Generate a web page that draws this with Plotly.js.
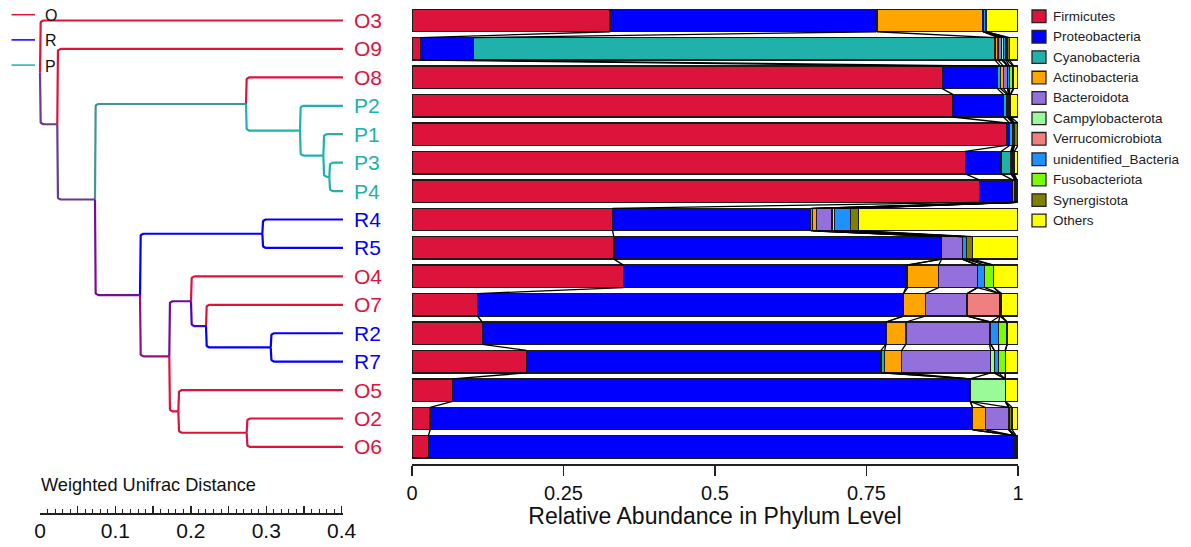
<!DOCTYPE html>
<html><head><meta charset="utf-8">
<script src="https://cdn.plot.ly/plotly-3.0.1.min.js"></script>
<style>html,body{margin:0;padding:0;background:#fff}#chart{width:1191px;height:547px}</style>
</head><body><div id="chart"></div>
<script>
// ---------------- DATA ----------------
const samples = ['O3','O9','O8','P2','P1','P3','P4','R4','R5','O4','O7','R2','R7','O5','O2','O6'];
const phyla = ['Firmicutes','Proteobacteria','Cyanobacteria','Actinobacteria','Bacteroidota',
  'Campylobacterota','Verrucomicrobiota','unidentified_Bacteria','Fusobacteriota','Synergistota','Others'];
const phylumColors = ['#DC143C','#0000FF','#20B2AA','#FFA500','#9370DB','#98FB98','#F08080','#1E90FF','#7CFC00','#808000','#FFFF00'];

//                     O3    O9    O8    P2    P1    P3    P4    R4    R5    O4    O7    R2    R7    O5    O2    O6
const firmicutes     = [0.327,0.014,0.875,0.893,0.981,0.913,0.936,0.331,0.333,0.349,0.108,0.116,0.189,0.067,0.030,0.027];
const proteobacteria = [0.439,0.087,0.091,0.083,0.005,0.059,0.055,0.327,0.541,0.466,0.703,0.666,0.585,0.854,0.895,0.967];
const cyanobacteria  = [0.001,0.861,0.005,0.006,0.005,0.016,0.004,0.003,0,    0.003,0,    0,    0.006,0,    0,    0];
const actinobacteria = [0.175,0.005,0.005,0.002,0.001,0.001,0.001,0.006,0,    0.051,0.036,0.033,0.028,0,    0.021,0];
const bacteroidota   = [0.001,0.006,0.007,0.001,0.001,0.001,0,    0.026,0.034,0.064,0.069,0.138,0.147,0,    0.039,0];
const campylobacterota=[0,    0.003,0,    0,    0,    0,    0,    0.004,0,    0,    0,    0.002,0.006,0.058,0,    0];
const verrucomicrobiota=[0,   0,    0,    0,    0,    0,    0,    0,    0,    0,    0.054,0,    0,    0,    0,    0];
const unidentifiedBacteria=[0.003,0.004,0.003,0.001,0.001,0.001,0.001,0.027,0.007,0.012,0,0.013,0.007,0,   0,    0];
const fusobacteriota = [0,    0.002,0.006,0.001,0,    0.001,0,    0,    0,    0.015,0,    0.014,0.011,0,    0,    0];
const synergistota   = [0.001,0.004,0.001,0.001,0.006,0.002,0.001,0.013,0.010,0,    0.003,0,    0,    0,    0.005,0.003];
const others         = [0.053,0.014,0.007,0.012,0,    0.006,0.002,0.263,0.075,0.040,0.027,0.018,0.021,0.021,0.010,0.003];
const abundance = [firmicutes,proteobacteria,cyanobacteria,actinobacteria,bacteroidota,campylobacterota,
  verrucomicrobiota,unidentifiedBacteria,fusobacteriota,synergistota,others];

// groups (first letter of sample)
const groupNames  = ['O','R','P'];
const groupColors = ['#DC143C','#0000FF','#20B2AA'];

// dendrogram (weighted UniFrac), x = distance from root
const nodeNames = ['G','F','E','C','M','L','J','N','K','I','H','D','B','A','root'];
const nodeLeft  = ['P3','P1','P2','O8','R2','O7','O4','O2','O5','J','R4','H','C','O9','O3'];
const nodeRight = ['P4','G','F','E','R7','M','L','O6','N','K','R5','I','D','B','A'];
const nodeDist  = [0.3836,0.3757,0.3447,0.2731,0.3059,0.2201,0.2002,0.2740,0.1834,0.1714,0.2948,0.1326,0.0729,0.0229,0];
const leafDist  = 0.4017;

const xTickVals = [0,0.25,0.5,0.75,1];
const xTickText = ['0','0.25','0.5','0.75','1'];
const scaleTickVals = [0,0.05,0.1,0.15,0.2,0.25,0.3,0.35,0.4];
const scaleTickText = ['0','','0.1','','0.2','','0.3','','0.4'];

// ---------------- GEOMETRY (px) ----------------
const W = 1191, H = 547;
const barLeft = 412, barRight = 1018;
const rowTop = 20.5, rowPitch = 28.43;
const treeZeroX = 40, treeUnit = 754.25;
const barAxisY = 464, scaleAxisY = 513;
const bargap = 0.21, half = (1 - bargap) / 2;
const px2x = p => p / W, px2y = p => 1 - p / H;
const idx = samples.map((s, i) => i);
const font = 'Liberation Sans, Arial, Helvetica, sans-serif';

const traces = [];
// bars
phyla.forEach((p, k) => {
  traces.push({type:'bar', orientation:'h', name:p, x:abundance[k], y:idx, xaxis:'x', yaxis:'y',
    marker:{color:phylumColors[k], line:{color:'#1a1a1a', width:1.4}}, showlegend:false, cliponaxis:false,
    hovertemplate:'%{fullData.name}: %{x}<extra></extra>'});
});
// connectors between consecutive bars
const cum = samples.map((s, i) => { let c = 0; return abundance.map(a => (c += a[i])); });
const cx = [], cy = [];
for (let k = 0; k < phyla.length - 1; k++) {
  for (let i = 0; i < samples.length - 1; i++) {
    cx.push(cum[i][k], cum[i+1][k], null);
    cy.push(i + half, i + 1 - half, null);
  }
}
traces.push({type:'scatter', mode:'lines', x:cx, y:cy, xaxis:'x', yaxis:'y', line:{color:'#000', width:1.3},
  hoverinfo:'skip', showlegend:false, cliponaxis:false});

// dendrogram
function hex2rgb(h){ return [1,3,5].map(o => parseInt(h.substr(o,2),16)); }
const pos = {};
samples.forEach((s, i) => { const c = {O:0,R:0,P:0}; c[s[0]] = 1; pos[s] = {x:leafDist, y:i, counts:c}; });
nodeNames.forEach((n, j) => {
  const a = pos[nodeLeft[j]], b = pos[nodeRight[j]];
  const c = {}; groupNames.forEach(g => c[g] = a.counts[g] + b.counts[g]);
  pos[n] = {x:nodeDist[j], y:(a.y + b.y) / 2, counts:c};
});
function mixColor(counts){
  let tot = 0, rgb = [0,0,0];
  groupNames.forEach((g, gi) => { const w = counts[g]; tot += w; const c = hex2rgb(groupColors[gi]); rgb = rgb.map((v, q) => v + w * c[q]); });
  return 'rgb(' + rgb.map(v => Math.round(v / tot)).join(',') + ')';
}
const r = 4, rx = r / treeUnit, ry = r / rowPitch;
nodeNames.forEach((n, j) => {
  const node = pos[n];
  [nodeLeft[j], nodeRight[j]].forEach(ch => {
    const c = pos[ch];
    const s = Math.sign(c.y - node.y);
    const xs = [node.x], ys = [node.y];
    for (let t = 0; t <= 8; t++) {
      const th = t / 8 * Math.PI / 2;
      xs.push(node.x + rx * (1 - Math.cos(th)));
      ys.push(c.y - s * ry * (1 - Math.sin(th)));
    }
    xs.push(c.x); ys.push(c.y);
    traces.push({type:'scatter', mode:'lines', x:xs, y:ys, xaxis:'x2', yaxis:'y',
      line:{color:mixColor(c.counts), width:2.2}, hoverinfo:'skip', showlegend:false, cliponaxis:false});
  });
});
// scale-bar axis carrier
traces.push({type:'scatter', mode:'lines', x:[0, 0.4], y:[17, 17], xaxis:'x3', yaxis:'y',
  line:{width:0, color:'rgba(0,0,0,0)'}, hoverinfo:'skip', showlegend:false});

// annotations
const annotations = [];
samples.forEach((s, i) => {
  annotations.push({xref:'x2', yref:'y', x:leafDist, y:i, text:s, showarrow:false, xanchor:'left', yanchor:'middle',
    xshift:9, font:{family:font, size:21, color:groupColors[groupNames.indexOf(s[0])]}});
});
const shapes = [];
phyla.forEach((p, k) => {
  const cyPx = 16.3 + k * 20.42;
  shapes.push({type:'rect', xref:'paper', yref:'paper', x0:px2x(1032), x1:px2x(1046), y0:px2y(cyPx - 6.3), y1:px2y(cyPx + 6.3),
    fillcolor:phylumColors[k], line:{color:'#222', width:1.3}});
  annotations.push({xref:'paper', yref:'paper', x:px2x(1050.5), y:px2y(cyPx), text:p, showarrow:false, xanchor:'left', yanchor:'middle',
    font:{family:font, size:13.5, color:'#222'}});
});
groupNames.forEach((g, gi) => {
  const cyPx = 14.7 + gi * 25.2;
  shapes.push({type:'line', xref:'paper', yref:'paper', x0:px2x(11.5), x1:px2x(35), y0:px2y(cyPx), y1:px2y(cyPx),
    line:{color:groupColors[gi], width:1.5}});
  annotations.push({xref:'paper', yref:'paper', x:px2x(43), y:px2y(cyPx + 1), text:g, showarrow:false, xanchor:'left', yanchor:'middle',
    font:{family:font, size:16, color:'#111'}});
});
annotations.push({xref:'paper', yref:'paper', x:px2x(39), y:px2y(485), text:'Weighted Unifrac Distance', showarrow:false,
  xanchor:'left', yanchor:'middle', font:{family:font, size:18.2, color:'#111'}});

const layout = {
  width:W, height:H, margin:{l:0, r:0, t:0, b:0}, paper_bgcolor:'#fff', plot_bgcolor:'rgba(0,0,0,0)',
  barmode:'stack', bargap:bargap, showlegend:false, font:{family:font, color:'#111'},
  yaxis:{domain:[0,1], range:[(H - rowTop) / rowPitch, -rowTop / rowPitch], visible:false, fixedrange:true},
  xaxis:{domain:[px2x(barLeft), px2x(barRight)], range:[0,1], anchor:'free', position:px2y(barAxisY),
    showline:true, linecolor:'#222', linewidth:1.5, ticks:'outside', ticklen:10, tickwidth:1.5, tickcolor:'#222',
    tickmode:'array', tickvals:xTickVals, ticktext:xTickText, tickfont:{family:font, size:20, color:'#111'},
    showgrid:false, zeroline:false, fixedrange:true,
    title:{text:'Relative Abundance in Phylum Level', font:{family:font, size:23, color:'#111'}, standoff:2}},
  xaxis2:{domain:[0, px2x(barLeft)], range:[-treeZeroX / treeUnit, (barLeft - treeZeroX) / treeUnit], anchor:'y', visible:false, fixedrange:true},
  xaxis3:{domain:[px2x(treeZeroX), px2x(treeZeroX + 0.402 * treeUnit)], range:[0, 0.402], anchor:'free', position:px2y(scaleAxisY),
    showline:true, linecolor:'#222', linewidth:1.5, ticks:'inside', ticklen:7, tickwidth:1.5, tickcolor:'#222',
    tickmode:'array', tickvals:scaleTickVals, ticktext:scaleTickText, tickfont:{family:font, size:21, color:'#111'},
    showgrid:false, zeroline:false, fixedrange:true, ticklabelstandoff:-2,
    minor:{ticks:'inside', ticklen:4, tickwidth:1, tickcolor:'#222', dtick:0.01, tick0:0, showgrid:false}},
  shapes:shapes, annotations:annotations
};
Plotly.newPlot('chart', traces, layout, {displayModeBar:false, staticPlot:true});
</script></body></html>
